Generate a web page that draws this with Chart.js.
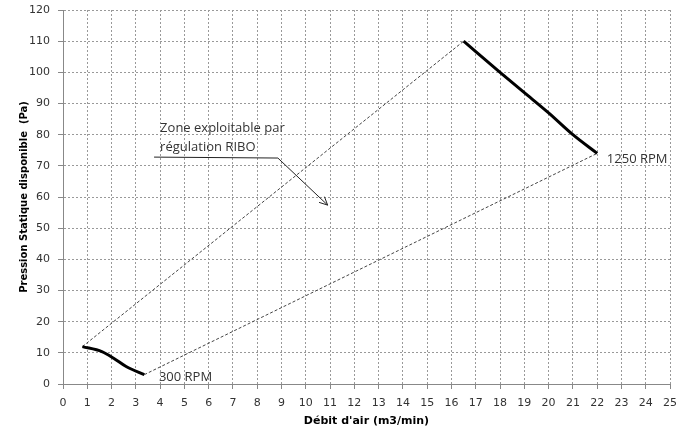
<!DOCTYPE html>
<html>
<head>
<meta charset="utf-8">
<script src="https://cdn.jsdelivr.net/npm/chart.js@4.4.1/dist/chart.umd.min.js"></script>
<style>
  html, body { margin: 0; padding: 0; background: #fff; }
  #wrap { width: 686px; height: 432px; }
</style>
</head>
<body>
<div id="wrap"><canvas id="chart" width="686" height="432"></canvas></div>
<script>
// Courbe 1250 RPM (débit m3/min, pression Pa)
const rpm1250X = [16.5, 18, 19, 20, 21, 22];
const rpm1250Y = [110, 100, 93.5, 87, 80, 74];

// Courbe 300 RPM
const rpm300X = [0.8, 1.6, 2.1, 2.6, 3.35];
const rpm300Y = [12, 10.4, 8.2, 5.6, 3];

// Limites de la zone (pointillés)
const upperX = [0.8, 16.5];
const upperY = [12, 110];
const lowerX = [3.35, 22];
const lowerY = [3, 74];

// Repère de l'annotation
const leaderX = [3.75, 8.85, 10.9];
const leaderY = [72.8, 72.5, 57.4];

const xTicks = { min: 0, max: 25, step: 1 };
const yTicks = { min: 0, max: 120, step: 10 };

const toPoints = (xs, ys) => xs.map((x, i) => ({ x: x, y: ys[i] }));

// Texts placed in data coordinates
const labels = [
  { text: "Zone exploitable par", x: 4, y: 82, align: "left" },
  { text: "régulation RIBO", x: 4, y: 75.8, align: "left" },
  { text: "1250 RPM", x: 22.4, y: 72.2, align: "left" },
  { text: "300 RPM", x: 3.95, y: 2, align: "left" },
];

const overlay = {
  id: "overlay",
  afterDatasetsDraw(chart) {
    const { ctx, scales } = chart;
    ctx.save();
    ctx.fillStyle = "#333";
    ctx.font = "13px 'Open Sans'";
    ctx.textBaseline = "middle";
    labels.forEach((l) => {
      ctx.textAlign = l.align;
      ctx.fillText(l.text, scales.x.getPixelForValue(l.x), scales.y.getPixelForValue(l.y));
    });
    // arrow head at end of leader
    const meta = chart.getDatasetMeta(4);
    const p = meta.data;
    const a = p[p.length - 2], b = p[p.length - 1];
    const ang = Math.atan2(b.y - a.y, b.x - a.x);
    const len = 9;
    ctx.strokeStyle = "#222";
    ctx.lineWidth = 1;
    ctx.beginPath();
    ctx.moveTo(b.x - len * Math.cos(ang - 0.45), b.y - len * Math.sin(ang - 0.45));
    ctx.lineTo(b.x, b.y);
    ctx.lineTo(b.x - len * Math.cos(ang + 0.45), b.y - len * Math.sin(ang + 0.45));
    ctx.stroke();
    ctx.restore();
  },
};

const tickFont = { family: "'DejaVu Sans'", size: 11 };

new Chart(document.getElementById("chart"), {
  type: "scatter",
  data: {
    datasets: [
      {
        data: toPoints(rpm1250X, rpm1250Y),
        showLine: true,
        borderColor: "#000",
        borderWidth: 3,
        pointRadius: 0,
        cubicInterpolationMode: "monotone",
      },
      {
        data: toPoints(rpm300X, rpm300Y),
        showLine: true,
        borderColor: "#000",
        borderWidth: 3,
        pointRadius: 0,
        cubicInterpolationMode: "monotone",
      },
      {
        data: toPoints(upperX, upperY),
        showLine: true,
        borderColor: "#444",
        borderWidth: 1,
        borderDash: [3, 2],
        pointRadius: 0,
      },
      {
        data: toPoints(lowerX, lowerY),
        showLine: true,
        borderColor: "#444",
        borderWidth: 1,
        borderDash: [3, 2],
        pointRadius: 0,
      },
      {
        data: toPoints(leaderX, leaderY),
        showLine: true,
        borderColor: "#222",
        borderWidth: 1,
        pointRadius: 0,
      },
    ],
  },
  options: {
    responsive: false,
    animation: false,
    layout: { padding: { top: 10, right: 16, left: 14, bottom: 0 } },
    plugins: { legend: { display: false }, tooltip: { enabled: false } },
    scales: {
      x: {
        type: "linear",
        min: xTicks.min,
        max: xTicks.max,
        ticks: { stepSize: xTicks.step, color: "#333", font: tickFont, padding: 8 },
        grid: { color: "#999", tickLength: 5, tickColor: "#888", tickBorderDash: [] },
        border: { color: "#888", dash: [2, 2] },
        title: {
          display: true,
          text: "Débit d'air (m3/min)",
          color: "#000",
          font: { family: "'DejaVu Sans'", size: 11, weight: "bold" },
          padding: { top: 4 },
        },
        afterFit: (s) => { s.height = 48; },
      },
      y: {
        type: "linear",
        min: yTicks.min,
        max: yTicks.max,
        ticks: { stepSize: yTicks.step, color: "#333", font: tickFont, padding: 8 },
        grid: { color: "#999", tickLength: 5, tickColor: "#888", tickBorderDash: [] },
        border: { color: "#888", dash: [2, 2] },
        title: {
          display: true,
          text: "Pression Statique disponible  (Pa)",
          color: "#000",
          font: { family: "'DejaVu Sans'", size: 10, weight: "bold" },
          padding: { bottom: 4 },
        },
        afterFit: (s) => { s.width = 49; s.paddingTop = 0; },
      },
    },
  },
  plugins: [overlay],
});
</script>
</body>
</html>
